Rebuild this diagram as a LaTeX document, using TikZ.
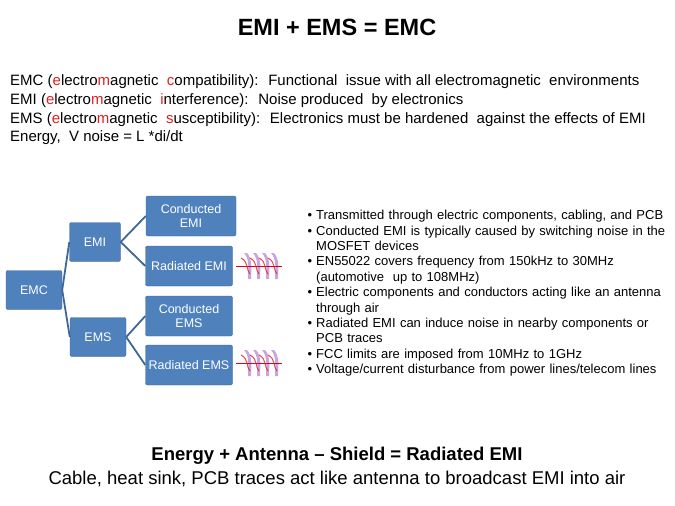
\documentclass[tikz,border=0pt]{standalone}
\usepackage{fontspec}
\setmainfont{Liberation Sans}
\usetikzlibrary{calc}
\definecolor{bx}{HTML}{4F81BD}
\definecolor{rd}{HTML}{E02020}
\begin{document}
\begin{tikzpicture}[x=1pt,y=-1pt,
 box/.style={draw=bx!80!black,fill=bx,text=white,rounded corners=2pt,font=\fontsize{12.5}{14.5}\selectfont,align=center,inner sep=1pt},
 conn/.style={draw=bx!80!black,line width=1.8pt},
 bl/.style={anchor=north west,font=\fontsize{13}{15.4}\selectfont,text width=372pt,inner sep=0},
 ln/.style={anchor=west,font=\fontsize{15}{17}\selectfont,inner sep=0}]
\useasboundingbox (0,0) rectangle (675,506);
\node[font=\bfseries\fontsize{23.5}{26}\selectfont] (t) at (337,27) {EMI + EMS = EMC};
\node[ln] (l1) at (10,82) {EMC (\textcolor{rd}{e}lectro\textcolor{rd}{m}agnetic \ \textcolor{rd}{c}ompatibility): \ Functional \ issue with all electromagnetic \ environments};
\node[ln] (l2) at (10,101) {EMI (\textcolor{rd}{e}lectro\textcolor{rd}{m}agnetic \ \textcolor{rd}{i}nterference): \ Noise produced \ by electronics};
\node[ln] (l3) at (10,120) {EMS (\textcolor{rd}{e}lectro\textcolor{rd}{m}agnetic \ \textcolor{rd}{s}usceptibility): \ Electronics must be hardened \ against the effects of EMI};
\node[ln] (l4) at (10,138) {Energy, \ V noise = L *di/dt};
\node[box,minimum width=56pt,minimum height=39pt] (emc) at (34,290) {EMC};
\node[box,minimum width=51pt,minimum height=39pt] (emi) at (95,242) {EMI};
\node[box,minimum width=56pt,minimum height=39pt] (ems) at (98,337) {EMS};
\node[box,minimum width=90pt,minimum height=40pt] (cemi) at (191,216) {Conducted\\EMI};
\node[box,minimum width=87pt,minimum height=40pt] (remi) at (189,266) {Radiated EMI};
\node[box,minimum width=87pt,minimum height=40pt] (cems) at (189,316) {Conducted\\EMS};
\node[box,minimum width=87pt,minimum height=40pt] (rems) at (189,365) {Radiated EMS};
\draw[conn] (emc.east) -- (emi.west);
\draw[conn] (emc.east) -- (ems.west);
\draw[conn] (emi.east) -- (cemi.west);
\draw[conn] (emi.east) -- (remi.west);
\draw[conn] (ems.east) -- (cems.west);
\draw[conn] (ems.east) -- (rems.west);
\foreach \y/\n in {266/a,363/b}{
 \coordinate (w\n) at (236,\y);
 \draw[red!70!purple,thin] (w\n) -- ++(46,0);
 \foreach \i in {0,1,2,3}{
  \fill[blue!50!purple,opacity=.35] ($(w\n)+(8+9*\i,-13)$) .. controls +(6,6) and +(0,-8) .. ++(4,26) -- ++(3,0) .. controls +(0,-8) and +(6,6) .. ++(-4,-26) -- cycle;
  \draw[rd,opacity=.8,line width=1pt] ($(w\n)+(5+9*\i,-8)$) .. controls +(8,4) and +(-4,-4) .. ++(9,16);
 }
}
\node[bl] (b) at (302,204) {\begin{list}{\textbullet}{\setlength{\leftmargin}{14pt}\setlength{\labelwidth}{10pt}\setlength{\labelsep}{4pt}\setlength{\itemsep}{0pt}\setlength{\parsep}{0pt}\setlength{\topsep}{0pt}}
\item Transmitted through electric components, cabling, and PCB
\item Conducted EMI is typically caused by switching noise in the\\MOSFET devices
\item EN55022 covers frequency from 150kHz to 30MHz\\(automotive \ up to 108MHz)
\item Electric components and conductors acting like an antenna\\through air
\item Radiated EMI can induce noise in nearby components or\\PCB traces
\item FCC limits are imposed from 10MHz to 1GHz
\item Voltage/current disturbance from power lines/telecom lines
\end{list}};
\node[font=\bfseries\fontsize{18.5}{21}\selectfont] (e1) at (337,456) {Energy + Antenna – Shield = Radiated EMI};
\node[font=\fontsize{18.5}{21}\selectfont] (e2) at (337,479) {Cable, heat sink, PCB traces act like antenna to broadcast EMI into air};
\end{tikzpicture}
\end{document}
